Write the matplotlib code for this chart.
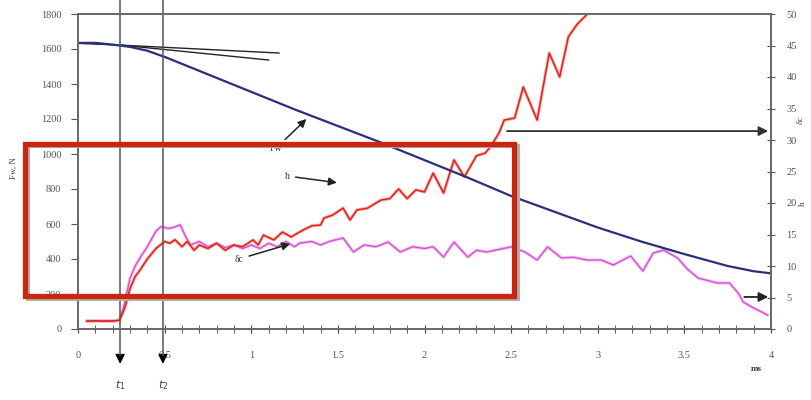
import matplotlib
matplotlib.use('Agg')
import matplotlib.pyplot as plt
from matplotlib.patches import Rectangle
from matplotlib.ticker import MultipleLocator

# force Fw (N), left axis
fw_t = [0.0, 0.1, 0.2, 0.3, 0.4, 0.5, 0.75, 1.0, 1.25, 1.5, 1.75, 2.0, 2.25, 2.5,
        2.75, 3.0, 3.25, 3.5, 3.75, 3.9, 4.0]
fw = [1635, 1635, 1625, 1612, 1590, 1555, 1455, 1355, 1255, 1160, 1065, 965, 865, 760,
      670, 580, 500, 428, 360, 330, 318]

# tangent lines at the start of the force curve
tan_t = [[0.0, 0.25, 1.16], [0.25, 1.10]]
tan_f = [[1632, 1622, 1577], [1622, 1537]]

# h curve (red)
h_t = [0.05, 0.1, 0.15, 0.2, 0.24, 0.27, 0.3, 0.33, 0.36, 0.4, 0.45, 0.5, 0.53, 0.56,
       0.6, 0.63, 0.67, 0.7, 0.75, 0.8, 0.85, 0.9, 0.95, 1.01, 1.04, 1.07, 1.13, 1.18,
       1.23, 1.3, 1.35, 1.4, 1.42, 1.47, 1.53, 1.57, 1.61, 1.67, 1.72, 1.75, 1.8, 1.85,
       1.9, 1.95, 2.0, 2.05, 2.11, 2.17, 2.23, 2.3, 2.35, 2.38, 2.43, 2.46, 2.52, 2.57,
       2.65, 2.72, 2.78, 2.83, 2.88, 2.94]
h = [45, 47, 45, 46, 50, 120, 230, 300, 340, 400, 460, 500, 490, 510,
     470, 500, 450, 480, 460, 490, 450, 480, 470, 509, 480, 537, 509, 554,
     526, 566, 590, 594, 634, 651, 691, 623, 680, 690, 720, 737, 745, 800,
     745, 795, 783, 891, 777, 966, 869, 990, 1005, 1040, 1120, 1194, 1205, 1383,
     1194, 1577, 1440, 1669, 1740, 1800]

# delta_c curve (magenta)
d_t = [0.05, 0.2, 0.24, 0.27, 0.3, 0.33, 0.36, 0.4, 0.45, 0.48, 0.52, 0.55, 0.59, 0.62,
       0.65, 0.7, 0.75, 0.8, 0.85, 0.9, 0.95, 1.0, 1.05, 1.1, 1.15, 1.2, 1.25, 1.28,
       1.35, 1.4, 1.45, 1.53, 1.59, 1.65, 1.72, 1.79, 1.86, 1.93, 2.0, 2.05, 2.11, 2.17,
       2.25, 2.3, 2.36, 2.43, 2.5, 2.58, 2.65, 2.71, 2.79, 2.86, 2.94, 3.02, 3.09, 3.19,
       3.26, 3.32, 3.38, 3.46, 3.52, 3.58, 3.69, 3.76, 3.81, 3.84, 3.9, 3.98]
d = [45, 45, 50, 150, 290, 360, 410, 470, 560, 585, 575, 580, 595, 530,
     480, 500, 470, 490, 465, 480, 460, 480, 460, 490, 470, 500, 470, 491,
     500, 480, 500, 520, 440, 480, 470, 497, 440, 470, 460, 470, 411, 497,
     411, 450, 440, 455, 469, 440, 394, 469, 406, 410, 394, 394, 366, 417,
     331, 434, 451, 406, 340, 291, 263, 263, 206, 154, 120, 80]

t_marks = [0.243, 0.49]
t_labels = ['$t_1$', '$t_2$']

plt.rcParams['font.family'] = ['Liberation Serif', 'DejaVu Serif']
fig = plt.figure(figsize=(8.11, 4.0), dpi=100)
ax = fig.add_axes([0.0962, 0.1775, 0.8545, 0.7875])
ax2 = ax.twinx()

ax.set_xlim(0, 4)
ax.set_ylim(0, 1800)
ax2.set_ylim(0, 50)

grey = '#6a6a6a'
for a in (ax, ax2):
    for s in a.spines.values():
        s.set_color(grey)
        s.set_linewidth(1.4)
    a.tick_params(colors='#555555', labelsize=7.5)

ax.xaxis.set_minor_locator(MultipleLocator(0.1))
ax.set_xticks([0, 0.5, 1, 1.5, 2, 2.5, 3, 3.5, 4])
ax.set_xticklabels(['0', '0.5', '1', '1.5', '2', '2.5', '3', '3.5', '4'])
ax.tick_params(axis='x', which='both', direction='inout', length=6, pad=13,
               color='#444444')
ax.yaxis.set_major_locator(MultipleLocator(200))
ax.tick_params(axis='y', direction='out', length=5, pad=7)
ax2.yaxis.set_major_locator(MultipleLocator(5))
ax2.tick_params(axis='y', direction='inout', length=6, pad=8)

ax.plot(fw_t, fw, color='#2b2f7a', lw=1.6, zorder=4)
for tt, ff in zip(tan_t, tan_f):
    ax.plot(tt, ff, color='#222222', lw=1.0, zorder=3)
ax.plot(d_t, d, color='#f4c4f2', lw=2.4, zorder=2)
ax.plot(d_t, d, color='#d255cf', lw=1.0, zorder=3)
ax.plot(h_t, h, color='#f6b8b0', lw=2.4, zorder=2)
ax.plot(h_t, h, color='#e0201a', lw=1.1, zorder=3)

# vertical markers with arrows below the axis
for tm, lab in zip(t_marks, t_labels):
    ax.plot([tm, tm], [1880, -150], color='#555555', lw=1.1, clip_on=False, zorder=5)
    ax.annotate('', xy=(tm, -215), xytext=(tm, -140),
                arrowprops=dict(arrowstyle='-|>', color='black', lw=1.0,
                                mutation_scale=14), annotation_clip=False)
    ax.text(tm, -320, lab, ha='center', va='center', fontsize=8, color='#444444',
            clip_on=False)

arrow = dict(arrowstyle='-|>', color='#222222', lw=1.1, mutation_scale=12)
ax.annotate('Fw', xy=(1.33, 1211), xytext=(1.14, 1030), fontsize=7, color='#333333',
            ha='center', va='center', arrowprops=arrow)
ax.annotate('h', xy=(1.51, 834), xytext=(1.21, 874), fontsize=7, color='#333333',
            ha='center', va='center', arrowprops=arrow)
ax.annotate('δc', xy=(1.24, 491), xytext=(0.93, 400), fontsize=7, color='#333333',
            ha='center', va='center', arrowprops=arrow)
ax.annotate('', xy=(4.0, 1131), xytext=(2.46, 1131),
            arrowprops=dict(arrowstyle='-|>', color='#333333', lw=1.3,
                            mutation_scale=14), annotation_clip=False)
ax.annotate('', xy=(4.0, 183), xytext=(3.83, 183),
            arrowprops=dict(arrowstyle='-|>', color='#222222', lw=1.3,
                            mutation_scale=14), annotation_clip=False)

fig.text(0.933, 0.072, 'ms', fontsize=6.5, color='#333333', ha='center',
         weight='bold')
fig.text(0.017, 0.58, 'Fw, N', fontsize=6.5, color='#444444', rotation=90,
         ha='center', va='center')
fig.text(0.987, 0.70, 'δc', fontsize=6.5, color='#444444', rotation=90,
         ha='center', va='center')
fig.text(0.990, 0.49, 'h', fontsize=6.5, color='#444444', rotation=90,
         ha='center', va='center')

# red highlight box with shadow
fig.patches.append(Rectangle((28 / 811, 1 - 299 / 400), 490 / 811, 153 / 400,
                             transform=fig.transFigure, fill=False,
                             edgecolor='#b0b0b0', lw=3.0, zorder=9))
fig.patches.append(Rectangle((24.5 / 811, 1 - 295.5 / 400), 489.5 / 811, 152 / 400,
                             transform=fig.transFigure, fill=False,
                             edgecolor='#c9250f', lw=3.8, zorder=10))

fig.savefig('out.png', dpi=100)
